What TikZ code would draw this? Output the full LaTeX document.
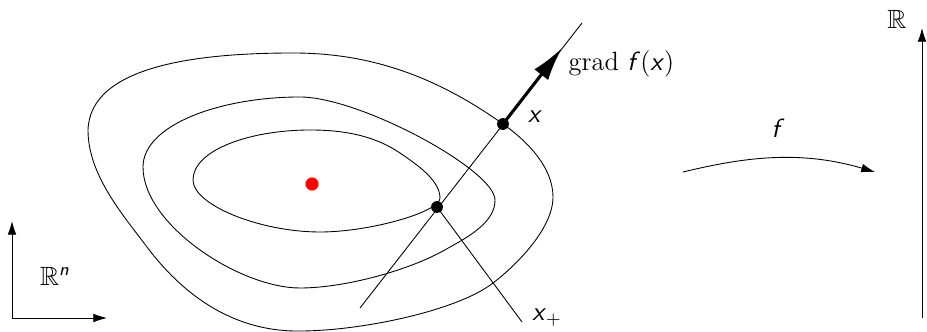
\documentclass[tikz,border=0pt]{standalone}
\usepackage{amsmath}
\usepackage{amssymb}
\usepackage{tikz}
\usetikzlibrary{arrows.meta, calc}
\tikzset{
	level/.style   ={thin},
	iterdot/.style ={circle, fill=black, inner sep=0pt, minimum size=0.19cm},
	optdot/.style  ={circle, fill=red, inner sep=0pt, minimum size=0.21cm},
	gradarrow/.style={-{Latex[length=5.4mm, width=2.8mm]}, line width=1.4pt},
	axarrow/.style ={-{Latex[length=2.2mm, width=1.4mm]}, thin},
	lbl/.style     ={inner sep=1pt},
}
\newcommand{\svar}[1]{\textsf{\textit{#1}}}

\begin{document}
\begin{tikzpicture}[x=0.016cm, y=-0.016cm, font=\large]
	\useasboundingbox (0,0) rectangle (927,332);
	% level sets
	\draw[level] (293,53) .. controls (373,53) and (438,78) .. (503,124)
		.. controls (527,141) and (553,167) .. (553,197)
		.. controls (553,230) and (513,268) .. (493,283)
		.. controls (457,311) and (360,331) .. (300,331)
		.. controls (230,332) and (180,291) .. (147,247)
		.. controls (123,215) and (88,175) .. (88,130)
		.. controls (90,65) and (200,53) .. cycle;
	\draw[level] (300,97) .. controls (360,97) and (495,170) .. (495,200)
		.. controls (495,220) and (474,234) .. (450,247)
		.. controls (412,270) and (345,288) .. (300,288)
		.. controls (240,288) and (143,225) .. (143,167)
		.. controls (143,125) and (220,97) .. cycle;
	\draw[level] (310,130) .. controls (345,130) and (375,136) .. (400,153)
		.. controls (416,164) and (440,180) .. (440,198)
		.. controls (440,212) and (370,232) .. (320,232)
		.. controls (260,232) and (193,205) .. (193,180)
		.. controls (193,150) and (250,130) .. cycle;
	% points
	\node[optdot] (xstar) at (312,184) {};
	\node[iterdot] (xk) at (503,124) {};
	\node[iterdot] (xp) at (437,207) {};
	\coordinate (lnlo) at (360,308);
	\coordinate (lnhi) at (582,23);
	\coordinate (gtip) at (562,48);
	\coordinate (xpend) at (522,322);
	\draw[thin] (lnlo) -- (lnhi);
	\draw[gradarrow] (xk.center) -- (gtip);
	\draw[thin] (xp.center) -- (xpend);
	\node[lbl] (xklab) at (535,117) {\svar{x}};
	\node[lbl, anchor=west] (gradlab) at (566,64) {grad \svar{f}(\svar{x})};
	\node[lbl] (xplab) at (547,318) {$\text{\svar{x}}_{\textsf{+}}$};
	% domain axes
	\coordinate (dorig) at (12,318);
	\coordinate (dup) at (12,221);
	\coordinate (dright) at (107,318);
	\draw[axarrow] (dorig) -- (dup);
	\draw[axarrow] (dorig) -- (dright);
	\node[lbl] (rnlab) at (55,276) {$\mathbb{R}^{\text{\svar{n}}}$};
	% map f
	\coordinate (fa) at (683,172);
	\coordinate (fb) at (875,172);
	\draw[axarrow] (fa) .. controls (745,157) and (800,150) .. (fb);
	\node[lbl] (flab) at (778,128) {\svar{f}};
	% value axis
	\coordinate (vlo) at (922,318);
	\coordinate (vhi) at (922,28);
	\draw[axarrow] (vlo) -- (vhi);
	\node[lbl] (rlab) at (897,19) {$\mathbb{R}$};
\end{tikzpicture}
\end{document}
